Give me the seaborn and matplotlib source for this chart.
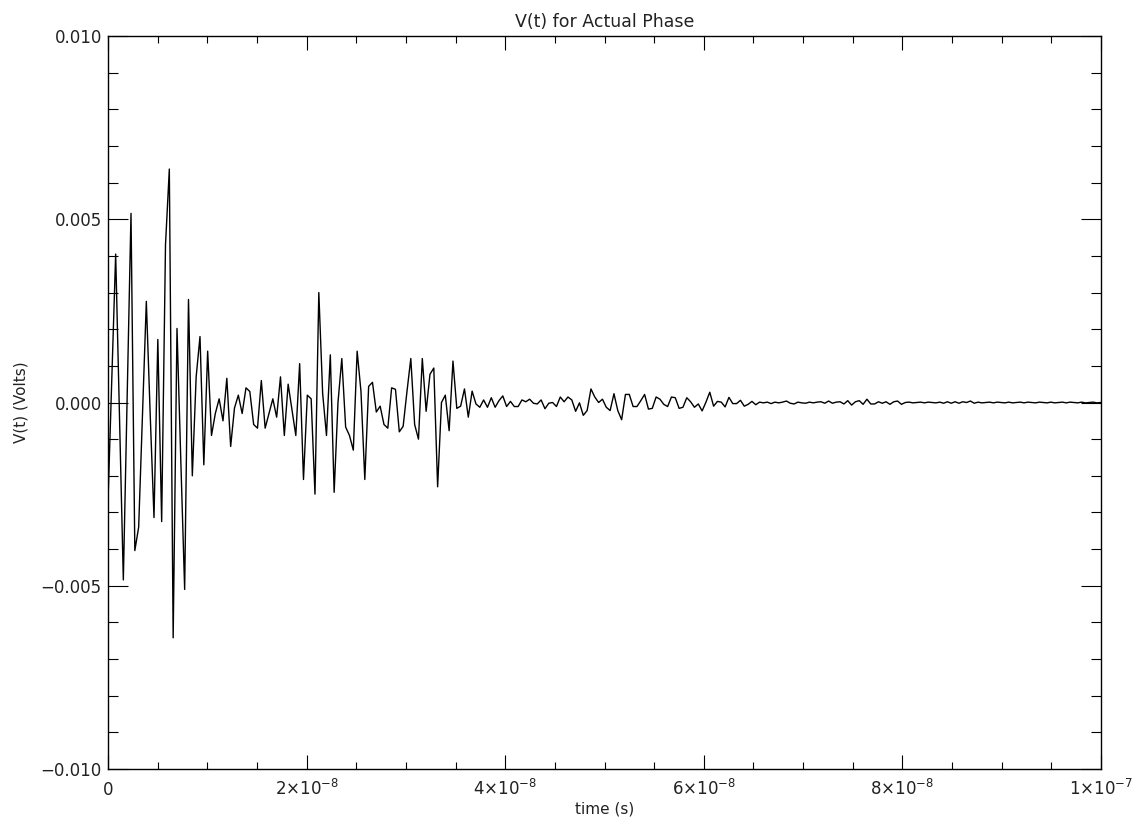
import numpy as np
import pandas as pd
import matplotlib
matplotlib.use("Agg")
import matplotlib.pyplot as plt
import seaborn as sns
from matplotlib.ticker import MultipleLocator, FuncFormatter

SAMPLE_DT = 3.86e-10

# V(t) samples in volts in order
v_burst1 = [
    -0.0027, 0.0007, 0.00405, -0.0004, -0.00484, 0.0001, 0.00516, -0.00404, -0.0034, -0.0003,
    0.00276, -0.0003, -0.00314, 0.00172, -0.00325, 0.0043, 0.00637, -0.00642, 0.00202, -0.0016,
    -0.0051, 0.00281, -0.002, 0.0007, 0.0018, -0.0017, 0.0014, -0.0009, -0.0003, 0.0001,
    -0.0005, 0.00066, -0.0012, -0.00015, 0.0002, -0.0003, 0.0004, 0.0003, -0.0006, -0.0007,
    0.0006, -0.0007, -0.0003, 0.0001, -0.0004, 0.0007,
]
v_burst2 = [
    -0.0009, 0.0005, -0.0002, -0.0009, 0.00106, -0.0021, 0.0002, 0.0001, -0.0025, 0.0030,
    0.00025, -0.0009, 0.0013, -0.00245, 0.0, 0.0012, -0.00067, -0.0009, -0.0013, 0.0014,
    0.0003, -0.0021, 0.00044, 0.00055, -0.00026, -0.0001, -0.0006, -0.0007, 0.0004, 0.00036,
    -0.0008, -0.00065, 0.0003, 0.0012, -0.0006, -0.001, 0.0012, -0.00024, 0.00077, 0.00094,
    -0.0023, 0.0, 0.0002, -0.00077, 0.00113, -0.00016, -0.0001, 0.00037, -0.0004,
]
v_tail1 = [
    0.00031, -0.00004, -0.00013, 0.00007, -0.00013, 0.00013, -0.00013, 0.00005, 0.00018, -0.00011,
    0.00003, -0.00011, -0.00011, 0.00007, 0.00002, 0.00009, -0.00002, -0.00004, 0.00007, -0.00017,
    -0.00002, 0.0, -0.00011, 0.00015, 0.00002, 0.00015, 0.00007, -0.00024, -0.00001, -0.00035,
    -0.00022, 0.00037, 0.00015, 0.0, 0.00009, -0.00013, -0.00022, 0.00024, -0.00022, -0.00047,
    0.00022, 0.00022, -0.00011, -0.00011, 0.00005, 0.00022, -0.00018, -0.00016, 0.00015, 0.00009,
    -0.00005, -0.00011, 0.00015, 0.00013, -0.00016, -0.00013, 0.00013, 0.00002, -0.00013, -0.00004,
]
v_tail2 = [
    -0.00023, 0.00001, 0.00028, -0.0001, 0.00003, 0.00001, -0.00012, 0.00014, -0.00003, -0.00003,
    0.00006, -0.0001, -0.00005, 0.00003, -0.00006, 0.00001, -0.00001, 0.00001, -0.00003, 0.00001,
    -0.00001, 0.00001, 0.00004, -0.00002, -0.00004, 0.00001, -0.00001, -0.00002, 0.00001, -0.00001,
    0.00001, 0.00002, -0.00002, 0.00004, -0.00002, 0.00001, 0.00002, -0.00004, 0.00005, -0.00007,
    0.00002, 0.00005, -0.00005, 0.00009, -0.00004, -0.00004, 0.00002, -0.00002, 0.00002, -0.00005,
    0.00002, 0.00004, -0.00005, 0.0,
]
v_tail3 = [
    0.00001, -0.00001, 0.0, 0.00001, -0.00001, 0.00001, 0.0, -0.00001, 0.00001, -0.00002,
    0.00002, -0.00002, 0.00002, -0.00002, 0.00002, 0.0, 0.00004, -0.00002, 0.00001, -0.00001,
    0.0, 0.00001, -0.00001, 0.00001, 0.0, -0.00001, 0.00001, -0.00001, 0.0, 0.00001,
    -0.00001, 0.00001, 0.0, -0.00001, 0.00001, 0.0, -0.00001, 0.00001, -0.00001, 0.0,
    0.00001, -0.00001, 0.00001, 0.0, -0.00001, 0.00001, -0.00001, 0.0, 0.00001, -0.00001,
    0.0,
]

x_tick_vals = [0.0, 2e-8, 4e-8, 6e-8, 8e-8, 1e-7]
x_tick_text = ["0", r"$2{\times}10^{-8}$", r"$4{\times}10^{-8}$",
               r"$6{\times}10^{-8}$", r"$8{\times}10^{-8}$", r"$1{\times}10^{-7}$"]
y_tick_vals = [-0.010, -0.005, 0.0, 0.005, 0.010]

volts = np.concatenate([v_burst1, v_burst2, v_tail1, v_tail2, v_tail3])
df = pd.DataFrame({"time": np.arange(len(volts)) * SAMPLE_DT, "volts": volts})

sns.set_theme(style="ticks")
plt.rcParams["font.family"] = ["DejaVu Sans"]
plt.rcParams["mathtext.fontset"] = "dejavusans"
plt.rcParams["axes.unicode_minus"] = True

TXT = "#222222"

fig = plt.figure(figsize=(11.45, 8.25), dpi=100)
ax = fig.add_axes([108 / 1145, 56 / 825, 993 / 1145, 733 / 825])

sns.lineplot(data=df, x="time", y="volts", ax=ax, color="black",
             linewidth=1.0, estimator=None, sort=False)

ax.set_xlim(0, 1e-7)
ax.set_ylim(-0.010, 0.010)

ax.set_xticks(x_tick_vals)
ax.xaxis.set_major_formatter(FuncFormatter(
    lambda v, pos: x_tick_text[pos] if pos is not None and pos < len(x_tick_text) else ""))
ax.xaxis.set_minor_locator(MultipleLocator(5e-9))
ax.set_yticks(y_tick_vals)
ax.yaxis.set_major_formatter(FuncFormatter(lambda v, pos: f"{v:.3f}".replace("-", "\u2212")))
ax.yaxis.set_minor_locator(MultipleLocator(0.001))

ax.tick_params(axis="both", which="both", direction="in", top=True, right=True,
               color="black", width=0.8)
ax.tick_params(axis="x", which="major", length=10, pad=18.5, labelsize=12, labelcolor=TXT)
ax.tick_params(axis="x", which="minor", length=5)
ax.tick_params(axis="y", which="major", length=14.4, pad=4.5, labelsize=12, labelcolor=TXT)
ax.tick_params(axis="y", which="minor", length=7.2)
for lbl in ax.get_xticklabels():
    lbl.set_va("baseline")

for side in ax.spines.values():
    side.set_visible(True)
    side.set_color("black")
    side.set_linewidth(1.0)

ax.set_title("V(t) for Actual Phase", fontsize=12.5, color=TXT, pad=6.5)
ax.set_xlabel("time (s)", fontsize=11, color=TXT, labelpad=2)
ax.set_ylabel("V(t) (Volts)", fontsize=11, color=TXT, labelpad=9)

fig.savefig("out.png", dpi=100, facecolor="white")
plt.close(fig)
